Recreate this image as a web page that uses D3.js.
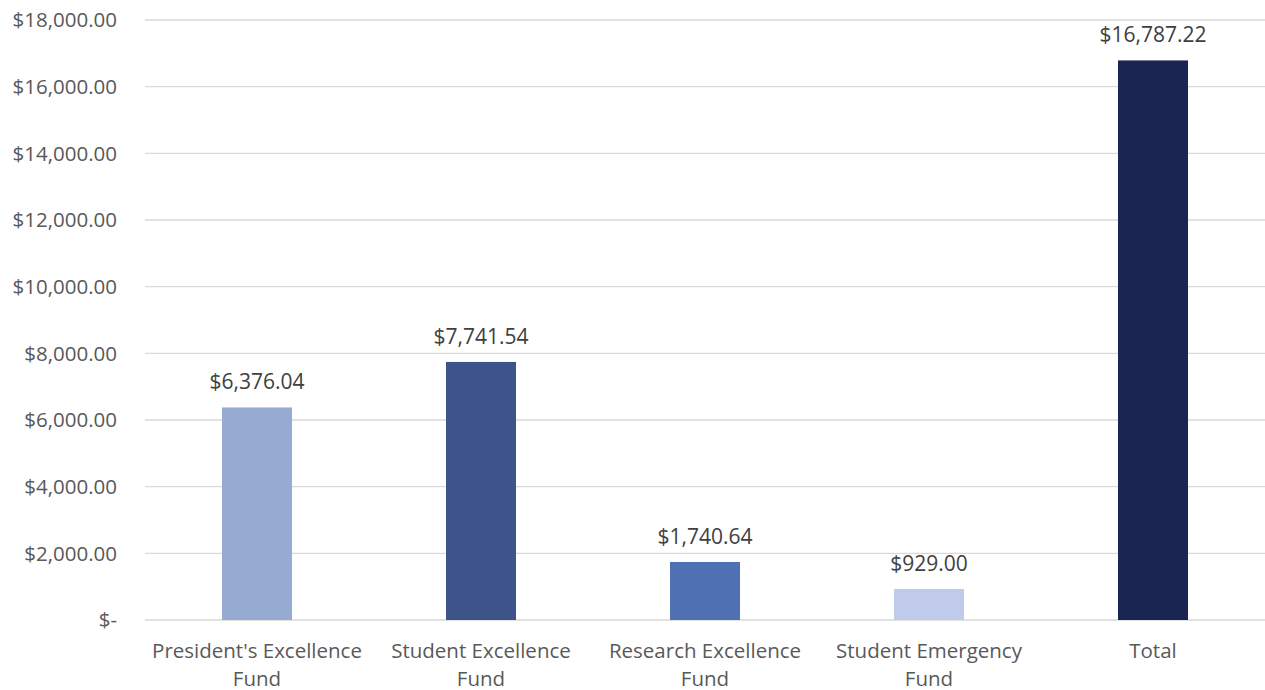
<!DOCTYPE html>
<html>
<head>
<meta charset="utf-8">
<script src="https://cdn.jsdelivr.net/npm/d3@7"></script>
<style>
  body { margin: 0; background: #fff; }
  text { font-family: "Open Sans", "Noto Sans", sans-serif; fill: #595959; }
</style>
</head>
<body>
<div id="chart"></div>
<script>
// chart data
const categories = [["President's Excellence", "Fund"], ["Student Excellence", "Fund"], ["Research Excellence", "Fund"], ["Student Emergency", "Fund"], ["Total"]];
const values = [6376.04, 7741.54, 1740.64, 929.00, 16787.22];
const barColors = ["#97AAD1", "#3D5389", "#4F70B3", "#C0CBEB", "#1A2552"];
const yTicks = [0, 2000, 4000, 6000, 8000, 10000, 12000, 14000, 16000, 18000];

let margin = { top: 20, right: 0, bottom: 70, left: 145 },
    width = 1265 - margin.left - margin.right,
    height = 690 - margin.top - margin.bottom;

let svg = d3.select("#chart")
    .append("svg")
    .attr("width", 1265)
    .attr("height", 690)
    .append("g")
    .attr("transform", "translate(" + margin.left + "," + margin.top + ")");

let x = d3.scaleBand()
    .domain(d3.range(values.length))
    .range([0, width])
    .paddingInner(0.6875)
    .paddingOuter(0.34375);

let y = d3.scaleLinear()
    .domain([0, 18000])
    .range([height, 0]);

let money = d3.format(",.2f");

// gridlines
svg.append("g")
    .selectAll("line")
    .data(yTicks)
    .enter()
    .append("line")
    .attr("x1", 0)
    .attr("x2", width)
    .attr("y1", d => y(d))
    .attr("y2", d => y(d))
    .attr("stroke", "#d9d9d9")
    .attr("stroke-width", 1.3);

// y labels
svg.append("g")
    .selectAll("text")
    .data(yTicks)
    .enter()
    .append("text")
    .attr("x", -28)
    .attr("y", d => y(d))
    .attr("dy", "0.35em")
    .attr("text-anchor", "end")
    .style("font-size", "20.5px")
    .text(d => d === 0 ? "$-" : "$" + money(d));

// bars
svg.append("g")
    .selectAll("rect")
    .data(values)
    .enter()
    .append("rect")
    .attr("x", (d, i) => x(i))
    .attr("width", x.bandwidth())
    .attr("y", d => y(d))
    .attr("height", d => height - y(d))
    .attr("fill", (d, i) => barColors[i]);

// value labels
svg.append("g")
    .selectAll("text")
    .data(values)
    .enter()
    .append("text")
    .attr("x", (d, i) => x(i) + x.bandwidth() / 2)
    .attr("y", d => y(d) - 18)
    .attr("text-anchor", "middle")
    .style("font-size", "21px")
    .style("fill", "#404040")
    .text(d => "$" + money(d));

// category labels
let cats = svg.append("g")
    .selectAll("text")
    .data(categories)
    .enter()
    .append("text")
    .attr("x", (d, i) => x(i) + x.bandwidth() / 2)
    .attr("y", height + 38)
    .attr("text-anchor", "middle")
    .style("font-size", "20.5px");

cats.selectAll("tspan")
    .data(d => d)
    .enter()
    .append("tspan")
    .attr("x", function () { return this.parentNode.getAttribute("x"); })
    .attr("dy", (d, i) => i === 0 ? 0 : 28)
    .text(d => d);
</script>
</body>
</html>
